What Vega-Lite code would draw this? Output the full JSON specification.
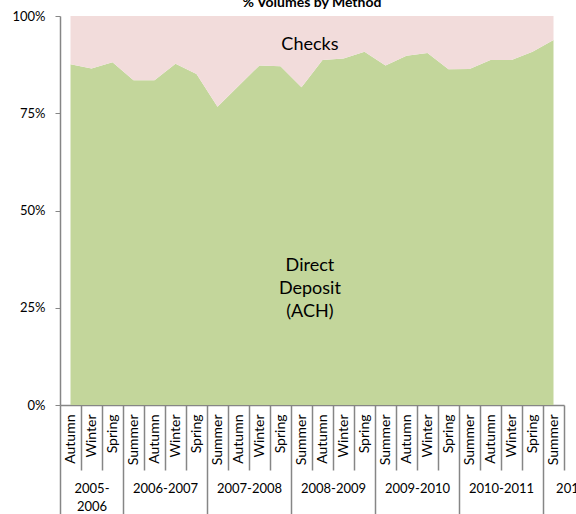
{
  "$schema": "https://vega.github.io/schema/vega-lite/v6.json",
  "width": 504,
  "height": 389,
  "autosize": "none",
  "padding": {"left": 60, "top": 16, "right": 12, "bottom": 109},
  "title": {"text": "% Volumes by Method", "fontSize": 14, "font": "Lato", "fontWeight": "bold", "color": "black", "anchor": "middle", "offset": -11, "baseline": "alphabetic"},
  "config": {"view": {"stroke": null}, "font": "Lato", "axis": {"labelFont": "Lato"}},
  "layer": [
    {
      "data": {"values": [
        {"idx": 0, "season": "Autumn", "year": "2005-2006", "ach": 87.6, "checks": 12.4},
        {"idx": 1, "season": "Winter", "year": "2005-2006", "ach": 86.5, "checks": 13.5},
        {"idx": 2, "season": "Spring", "year": "2005-2006", "ach": 88.1, "checks": 11.9},
        {"idx": 3, "season": "Summer", "year": "2006-2007", "ach": 83.5, "checks": 16.5},
        {"idx": 4, "season": "Autumn", "year": "2006-2007", "ach": 83.5, "checks": 16.5},
        {"idx": 5, "season": "Winter", "year": "2006-2007", "ach": 87.7, "checks": 12.3},
        {"idx": 6, "season": "Spring", "year": "2006-2007", "ach": 85.1, "checks": 14.9},
        {"idx": 7, "season": "Summer", "year": "2007-2008", "ach": 76.7, "checks": 23.3},
        {"idx": 8, "season": "Autumn", "year": "2007-2008", "ach": 82.0, "checks": 18.0},
        {"idx": 9, "season": "Winter", "year": "2007-2008", "ach": 87.3, "checks": 12.7},
        {"idx": 10, "season": "Spring", "year": "2007-2008", "ach": 87.1, "checks": 12.9},
        {"idx": 11, "season": "Summer", "year": "2008-2009", "ach": 81.7, "checks": 18.3},
        {"idx": 12, "season": "Autumn", "year": "2008-2009", "ach": 88.7, "checks": 11.3},
        {"idx": 13, "season": "Winter", "year": "2008-2009", "ach": 89.1, "checks": 10.9},
        {"idx": 14, "season": "Spring", "year": "2008-2009", "ach": 90.8, "checks": 9.2},
        {"idx": 15, "season": "Summer", "year": "2009-2010", "ach": 87.3, "checks": 12.7},
        {"idx": 16, "season": "Autumn", "year": "2009-2010", "ach": 89.8, "checks": 10.2},
        {"idx": 17, "season": "Winter", "year": "2009-2010", "ach": 90.5, "checks": 9.5},
        {"idx": 18, "season": "Spring", "year": "2009-2010", "ach": 86.3, "checks": 13.7},
        {"idx": 19, "season": "Summer", "year": "2010-2011", "ach": 86.4, "checks": 13.6},
        {"idx": 20, "season": "Autumn", "year": "2010-2011", "ach": 88.7, "checks": 11.3},
        {"idx": 21, "season": "Winter", "year": "2010-2011", "ach": 88.7, "checks": 11.3},
        {"idx": 22, "season": "Spring", "year": "2010-2011", "ach": 90.8, "checks": 9.2},
        {"idx": 23, "season": "Summer", "year": "2011-2012", "ach": 93.8, "checks": 6.2}
      ]},
      "transform": [{"fold": ["ach", "checks"], "as": ["method", "pct"]}],
      "mark": {"type": "area", "interpolate": "linear", "line": false},
      "encoding": {
        "x": {
          "field": "idx", "type": "quantitative",
          "scale": {"domain": [-0.5, 23.5], "nice": false, "zero": false},
          "axis": {
            "orient": "bottom", "title": null, "grid": false,
            "values": [0,1,2,3,4,5,6,7,8,9,10,11,12,13,14,15,16,17,18,19,20,21,22,23],
            "labelExpr": "['Autumn','Winter','Spring','Summer'][datum.value % 4]",
            "labelAngle": -90, "ticks": false, "domainColor": "#868686", "domainWidth": 1.5,
            "labelPadding": 9, "labelFontSize": 14, "labelColor": "black",
            "labelFlush": false, "labelOverlap": false
          }
        },
        "y": {
          "field": "pct", "type": "quantitative", "stack": "normalize",
          "scale": {"domain": [0, 1], "nice": false},
          "axis": {
            "title": null, "grid": false, "values": [0, 0.25, 0.5, 0.75, 1], "format": ".0%",
            "tickSize": 5, "labelPadding": 10, "domainColor": "#868686", "tickColor": "#868686",
            "domainWidth": 1.5, "labelColor": "black", "labelFontSize": 13
          }
        },
        "color": {"field": "method", "type": "nominal", "scale": {"domain": ["ach", "checks"], "range": ["#C3D69B", "#F2DCDB"]}, "legend": null},
        "order": {"field": "method", "sort": "ascending"}
      }
    },
    {
      "data": {"values": [{"label": "Checks"}]},
      "mark": {"type": "text", "fontSize": 18, "font": "Lato", "color": "black", "align": "center", "baseline": "middle"},
      "encoding": {
        "text": {"field": "label"},
        "x": {
          "datum": 11.4, "type": "quantitative",
          "scale": {"domain": [-0.5, 23.5], "nice": false, "zero": false},
          "axis": {
            "orient": "bottom", "title": null, "grid": false, "labels": false, "domain": false,
            "values": [-0.5,0.5,1.5,2.5,3.5,4.5,5.5,6.5,7.5,8.5,9.5,10.5,11.5,12.5,13.5,14.5,15.5,16.5,17.5,18.5,19.5,20.5,21.5,22.5,23.5],
            "ticks": true, "tickColor": "#868686", "tickWidth": 1.5,
            "tickSize": {"condition": {"test": "indexof([-0.5,2.5,6.5,10.5,14.5,18.5,22.5], datum.value) >= 0", "value": 109}, "value": 65}
          }
        },
        "y": {"datum": 0.925, "type": "quantitative", "axis": null}
      }
    },
    {
      "data": {"values": [{"label": "Direct Deposit (ACH)"}]},
      "mark": {"type": "text", "fontSize": 18, "font": "Lato", "color": "black", "align": "center", "baseline": "middle", "lineBreak": " ", "lineHeight": 23},
      "encoding": {
        "text": {"field": "label"},
        "x": {
          "datum": 11.4, "type": "quantitative",
          "scale": {"domain": [-0.5, 23.5], "nice": false, "zero": false},
          "axis": {
            "orient": "bottom", "title": null, "grid": false, "ticks": false, "domain": false,
            "values": [1, 4.5, 8.5, 12.5, 16.5, 20.5, 23.1],
            "labelExpr": "datum.value == 1 ? ['2005-','2006'] : datum.value == 4.5 ? '2006-2007' : datum.value == 8.5 ? '2007-2008' : datum.value == 12.5 ? '2008-2009' : datum.value == 16.5 ? '2009-2010' : datum.value == 20.5 ? '2010-2011' : '2011-2012'",
            "labelPadding": 77, "labelBaseline": "top", "labelAngle": 0,
            "labelAlign": {"condition": {"test": "datum.value > 23", "value": "left"}, "value": "center"},
            "labelFlush": false, "labelOverlap": false, "labelBound": false,
            "labelLineHeight": 18, "labelFontSize": 13, "labelColor": "black"
          }
        },
        "y": {"datum": 0.357, "type": "quantitative", "axis": null}
      }
    }
  ],
  "resolve": {"axis": {"x": "independent", "y": "independent"}}
}
